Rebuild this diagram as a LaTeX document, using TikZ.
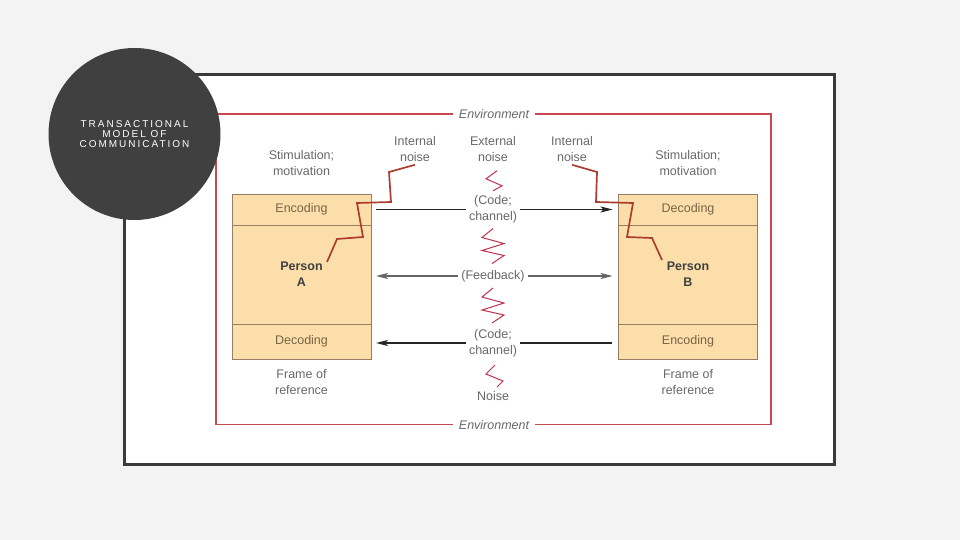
\documentclass[tikz,border=0pt]{standalone}
\usepackage{fontspec}
\setmainfont{Liberation Sans}
\newfontfamily\spacedfont[LetterSpace=20]{Liberation Sans}
\usetikzlibrary{positioning,arrows.meta}

\definecolor{slidebg}{RGB}{243,243,243}
\definecolor{framegray}{RGB}{58,58,58}
\definecolor{discgray}{RGB}{64,64,64}
\definecolor{envred}{RGB}{200,72,84}
\definecolor{noisered}{RGB}{172,60,48}
\definecolor{zigred}{RGB}{190,50,80}
\definecolor{boxfill}{RGB}{252,222,170}
\definecolor{boxline}{RGB}{150,125,100}
\definecolor{labelgray}{RGB}{105,105,105}
\definecolor{celltext}{RGB}{120,100,70}

\begin{document}
\begin{tikzpicture}[x=1pt,y=-1pt,node distance=6pt,
    lbl/.style={text=labelgray,font=\fontsize{12.5}{16}\selectfont,align=center,inner sep=3pt},
    envlbl/.style={text=labelgray,font=\itshape\fontsize{12.5}{16}\selectfont,fill=white,inner xsep=6pt,inner ysep=0pt},
    cell/.style={draw=boxline,fill=boxfill,minimum width=139pt,outer sep=0pt,inner sep=0pt,align=center,text=celltext,font=\fontsize{12.5}{16}\selectfont},
    who/.style={cell,text=black!75,font=\bfseries\fontsize{12.5}{16}\selectfont},
    flow/.style={draw=black!85,line width=1pt},
    tip/.style={-{Stealth[length=12pt,width=6pt,inset=3pt]}},
    noise/.style={noisered,line width=1.7pt},
    zig/.style={zigred,line width=1pt}]

    \fill[slidebg] (0,0) rectangle (960,540);
    \useasboundingbox (0,0) rectangle (960,540);
    \draw[framegray,line width=3pt,fill=white] (124.5,74.5) rectangle (834.5,464);

    % environment
    \draw[envred,line width=1.2pt] (216,114) rectangle (771,424.5);
    \node[envlbl] (envtop) at (494,114) {Environment};
    \node[envlbl] (envbot) at (494,425) {Environment};

    % person A
    \node[cell,minimum height=31pt] (encA) at (301.5,209.5) {Encoding};
    \node[who,minimum height=99pt,below=0pt of encA] (personA) {Person\\A};
    \node[cell,minimum height=35pt,below=0pt of personA] (decA) {Decoding};
    \node[lbl,above=15pt of encA] (stimA) {Stimulation;\\motivation};
    \node[lbl,below=7pt of decA] (frameA) {Frame of\\reference};

    % person B
    \node[cell,minimum height=31pt] (decB) at (688,209.5) {Decoding};
    \node[who,minimum height=99pt,below=0pt of decB] (personB) {Person\\B};
    \node[cell,minimum height=35pt,below=0pt of personB] (encB) {Encoding};
    \node[lbl,above=15pt of decB] (stimB) {Stimulation;\\motivation};
    \node[lbl,below=7pt of encB] (frameB) {Frame of\\reference};

    % middle
    \node[lbl] (intA) at (415,149) {Internal\\noise};
    \node[lbl] (extN) at (493,149) {External\\noise};
    \node[lbl] (intB) at (572,149) {Internal\\noise};
    \node[lbl] (code1) at (493,209.5) {(Code;\\channel)};
    \node[lbl] (fb) at (493,276) {(Feedback)};
    \node[lbl] (code2) at (493,343) {(Code;\\channel)};
    \node[lbl] (noiseN) at (493,396) {Noise};

    \draw[flow,shorten <=5pt] (encA) -- (code1);
    \draw[flow,tip,shorten >=6pt] (code1) -- (decB);
    \draw[flow,draw=black!60,line width=1.3pt,tip,shorten >=5pt] (fb) -- (fb -| personA.east);
    \draw[flow,draw=black!60,line width=1.3pt,tip,shorten >=6pt] (fb) -- (fb -| personB.west);
    \draw[flow,line width=2pt,tip,shorten >=5pt] (code2) -- (code2 -| decA.east);
    \draw[flow,line width=2pt,shorten <=7pt] (code2 -| encB.west) -- (code2);

    % noise
    \coordinate (hitA) at (327,262);
    \coordinate (hitB) at (662,260);
    \draw[noise] (intA.south) -- (389,172) -- (391,202) -- (357,203) -- (363,237) -- (337,239) -- (hitA);
    \draw[noise] (intB.south) -- (597,172) -- (596,202) -- (633,203) -- (627,237) -- (652,238) -- (hitB);

    \draw[zig] (extN.south) ++(4,6) -- ++(-11,8) -- ++(16,7) -- ++(-9,5);
    \draw[zig] (code1.south) ++(0,2) -- ++(-11,9) -- ++(22,6) -- ++(-22,7) -- ++(22,5) -- ++(-12,8);
    \draw[zig] (fb.south) ++(0,3) -- ++(-11,9) -- ++(22,6) -- ++(-22,7) -- ++(22,5) -- ++(-12,8);
    \draw[zig] (code2.south) ++(2,5) -- ++(-9,9) -- ++(17,7) -- ++(-6,6);

    % title disc
    \node[circle,fill=discgray,minimum size=172pt,inner sep=0pt,text=white,align=center,
          font=\spacedfont\fontsize{10}{10}\selectfont] (title) at (134.5,134)
          {TRANSACTIONAL\\MODEL OF\\COMMUNICATION};
\end{tikzpicture}
\end{document}
